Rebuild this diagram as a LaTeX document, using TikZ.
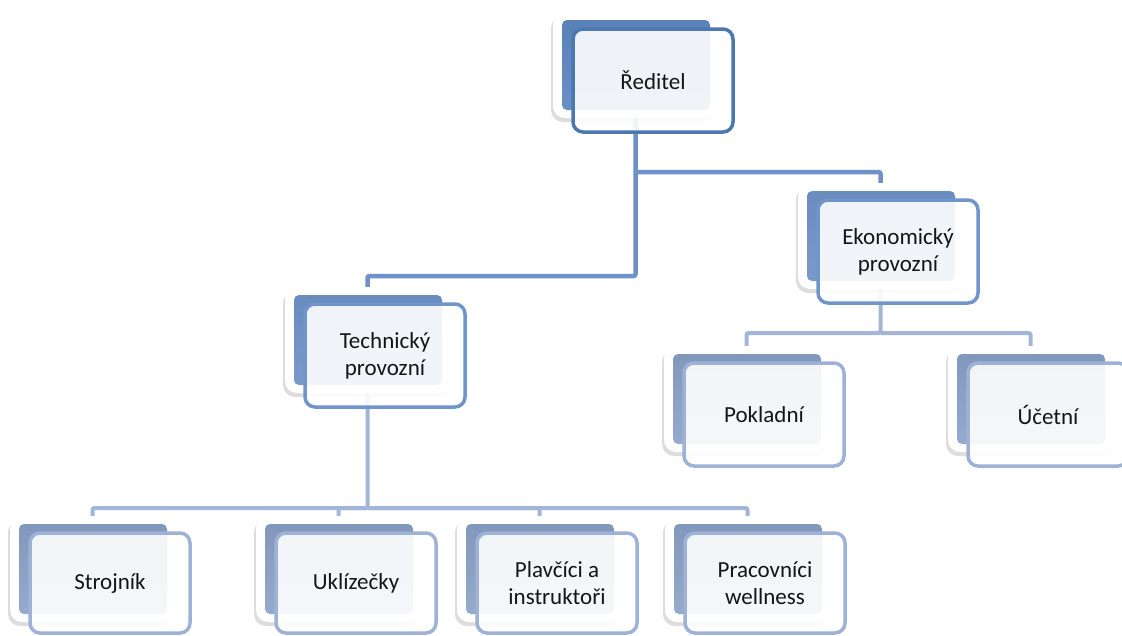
\documentclass[tikz,border=0pt]{standalone}
\usepackage{fontspec}
\setmainfont{Carlito}
\usetikzlibrary{shadows,calc}
\pgfdeclarelayer{paper}
\pgfdeclarelayer{bg}
\pgfsetlayers{paper,bg,main}
\definecolor{bATop}{HTML}{5A80B8}
\definecolor{bABot}{HTML}{6890C6}
\definecolor{lnA}{HTML}{4C78B2}
\definecolor{cnA}{HTML}{6E92C8}
\definecolor{bBTop}{HTML}{6A8BBE}
\definecolor{bBBot}{HTML}{7A9ACB}
\definecolor{lnB}{HTML}{7095CA}
\definecolor{cnB}{HTML}{A2B6DA}
\definecolor{bCTop}{HTML}{8198BC}
\definecolor{bCBot}{HTML}{95ABCD}
\definecolor{lnC}{HTML}{9DB2D6}
\definecolor{txt}{HTML}{151515}
\tikzset{
  backbox/.style={draw=none, fill=white, rounded corners=12pt,
    minimum width=165pt, minimum height=106pt, inner sep=0pt, outer sep=0pt,
    anchor=north west,
    drop shadow={shadow xshift=-2pt, shadow yshift=-4pt, opacity=0.22, fill=black!60}},
  bluebox/.style={draw=none, rounded corners=5pt, minimum width=148pt,
    minimum height=90pt, inner sep=0pt, outer sep=0pt, anchor=north west},
  frontbox/.style={rounded corners=10pt, minimum width=160pt, minimum height=103pt,
    inner sep=0pt, outer sep=0pt, anchor=north west, fill=white, fill opacity=0.9,
    text opacity=1, line width=3.5pt, align=center, text=txt,
    font=\fontsize{23}{27}\selectfont},
  blueA/.style={bluebox, top color=bATop, bottom color=bABot},
  blueB/.style={bluebox, top color=bBTop, bottom color=bBBot},
  blueC/.style={bluebox, top color=bCTop, bottom color=bCBot},
  frontA/.style={frontbox, draw=lnA},
  frontB/.style={frontbox, draw=lnB},
  frontC/.style={frontbox, draw=lnC},
  connA/.style={draw=cnA, line width=4.5pt, rounded corners=2pt},
  connB/.style={draw=cnB, line width=4pt, rounded corners=2pt},
}
% #1 extra front options, #2 name, #3 x, #4 y, #5 level, #6 text
\newcommand\orgunit[6][]{%
  \node[backbox] (#2B) at (#3,#4) {};
  \node[blue#5] (#2C) at ($(#2B.north west)+(9,8)$) {};
  \node[front#5,#1] (#2) at ($(#2B.north west)+(20,17)$) {#6};
}
\begin{document}
\begin{tikzpicture}[x=1pt,y=-1pt]
\useasboundingbox (0,0) rectangle (1122,635);
\begin{pgfonlayer}{paper}
\fill[white] (0,0) rectangle (1122,635);
\end{pgfonlayer}

\orgunit{r}{553}{12}{A}{Ředitel}
\orgunit{e}{798}{183}{B}{Ekonomický\\provozní}
\orgunit{t}{285}{287}{B}{Technický\\provozní}
\orgunit{p}{664}{346}{C}{Pokladní}
\orgunit{u}{948}{346}{C}{Účetní}
\orgunit[minimum height=100pt]{s}{10}{516}{C}{Strojník}
\orgunit[minimum height=100pt]{k}{256}{516}{C}{Uklízečky}
\orgunit[minimum height=100pt]{pl}{457}{516}{C}{Plavčíci a\\instruktoři}
\orgunit[minimum height=100pt]{w}{665}{516}{C}{Pracovníci\\wellness}

\coordinate (j1) at (0,276);
\coordinate (j2) at (0,172);
\coordinate (j3) at (0,333);
\coordinate (j4) at (0,508);

\begin{pgfonlayer}{bg}
\draw[connA] (rB.south) -- (rB.south |- j1) -| (tB.north);
\draw[connA] (rB.south |- j2) -| (eB.north);
\draw[connB] (eB.south) -- (eB.south |- j3) -| (pB.north);
\draw[connB] (eB.south |- j3) -| (uB.north);
\draw[connB] (tB.south) -- (tB.south |- j4) -| (sB.north);
\draw[connB] (tB.south |- j4) -| (kB.north);
\draw[connB] (tB.south |- j4) -| (plB.north);
\draw[connB] (tB.south |- j4) -| (wB.north);
\end{pgfonlayer}
\end{tikzpicture}
\end{document}
